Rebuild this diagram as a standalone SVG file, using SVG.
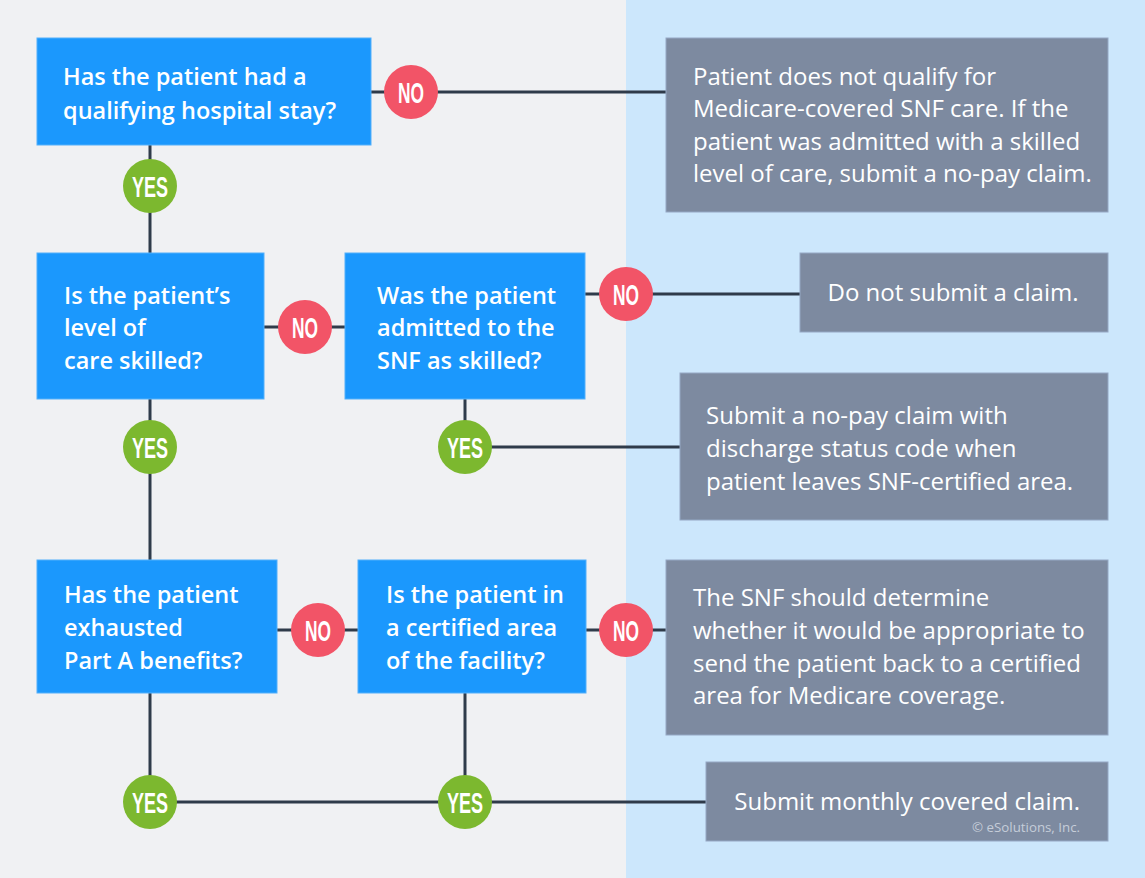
<svg xmlns="http://www.w3.org/2000/svg" width="1145" height="878" viewBox="0 0 1145 878">
<style>
.q{fill:#1b98fd;stroke:#53b0fb;stroke-width:1}
.a{fill:#7d8aa0;stroke:#95a8c4;stroke-width:1}
.qt{font-family:"Open Sans","Liberation Sans",sans-serif;font-weight:600;font-size:23.5px;fill:#ffffff}
.at{font-family:"Open Sans","Liberation Sans",sans-serif;font-weight:400;font-size:24px;fill:#ffffff}
.no{fill:#f25467}
.yes{fill:#7cb82f}
.ct{font-family:"Liberation Sans","DejaVu Sans",sans-serif;font-weight:700;font-size:30px;fill:#ffffff;text-anchor:middle}
.ln{stroke:#2f3b4a;stroke-width:3;fill:none}
.cp{font-family:"Open Sans","Liberation Sans",sans-serif;font-size:13.3px;fill:#c5cdd9;text-anchor:end}
</style>
<rect x="0" y="0" width="626" height="878" fill="#f0f1f3"/>
<rect x="626" y="0" width="519" height="878" fill="#cce7fc"/>
<g id="connectors">
<line class="ln" x1="371" y1="92" x2="666" y2="92"/>
<line class="ln" x1="150" y1="145" x2="150" y2="253"/>
<line class="ln" x1="264" y1="327" x2="345" y2="327"/>
<line class="ln" x1="585" y1="294" x2="800" y2="294"/>
<line class="ln" x1="150" y1="399" x2="150" y2="560"/>
<line class="ln" x1="465" y1="399" x2="465" y2="447"/>
<line class="ln" x1="465" y1="447" x2="680" y2="447"/>
<line class="ln" x1="277" y1="630" x2="358" y2="630"/>
<line class="ln" x1="586" y1="630" x2="666" y2="630"/>
<line class="ln" x1="150" y1="693" x2="150" y2="802"/>
<line class="ln" x1="465" y1="693" x2="465" y2="802"/>
<line class="ln" x1="150" y1="802" x2="706" y2="802"/>
</g>
<g id="q1">
<rect class="q" x="37" y="38" width="334" height="107"/>
<text class="qt" x="63" y="85">Has the patient had a</text>
<text class="qt" x="63" y="119">qualifying hospital stay?</text>
</g>
<g id="no1">
<circle class="no" cx="411" cy="92" r="27"/>
<text class="ct" x="411" y="103" textLength="26" lengthAdjust="spacingAndGlyphs">NO</text>
</g>
<g id="r1">
<rect class="a" x="666" y="38" width="442" height="174"/>
<text class="at" x="693" y="85">Patient does not qualify for</text>
<text class="at" x="693" y="117">Medicare-covered SNF care. If the</text>
<text class="at" x="693" y="149.5">patient was admitted with a skilled</text>
<text class="at" x="693" y="182">level of care, submit a no-pay claim.</text>
</g>
<g id="yes1">
<circle class="yes" cx="150" cy="186" r="27"/>
<text class="ct" x="150" y="197" textLength="36" lengthAdjust="spacingAndGlyphs">YES</text>
</g>
<g id="q2">
<rect class="q" x="37" y="253" width="227" height="146"/>
<text class="qt" x="64" y="303.5">Is the patient’s</text>
<text class="qt" x="64" y="336">level of</text>
<text class="qt" x="64" y="368.5">care skilled?</text>
</g>
<g id="no2">
<circle class="no" cx="305" cy="327" r="27"/>
<text class="ct" x="305" y="338" textLength="26" lengthAdjust="spacingAndGlyphs">NO</text>
</g>
<g id="q3">
<rect class="q" x="345" y="253" width="240" height="146"/>
<text class="qt" x="377" y="303.5">Was the patient</text>
<text class="qt" x="377" y="336">admitted to the</text>
<text class="qt" x="377" y="368.5">SNF as skilled?</text>
</g>
<g id="no3">
<circle class="no" cx="626" cy="294" r="27"/>
<text class="ct" x="626" y="305" textLength="26" lengthAdjust="spacingAndGlyphs">NO</text>
</g>
<g id="r2">
<rect class="a" x="800" y="253" width="308" height="79"/>
<text class="at" x="953" y="301" text-anchor="middle">Do not submit a claim.</text>
</g>
<g id="yes2">
<circle class="yes" cx="150" cy="447" r="27"/>
<text class="ct" x="150" y="458" textLength="36" lengthAdjust="spacingAndGlyphs">YES</text>
</g>
<g id="yes3">
<circle class="yes" cx="465" cy="447" r="27"/>
<text class="ct" x="465" y="458" textLength="36" lengthAdjust="spacingAndGlyphs">YES</text>
</g>
<g id="r3">
<rect class="a" x="680" y="373" width="428" height="147"/>
<text class="at" x="706" y="424">Submit a no-pay claim with</text>
<text class="at" x="706" y="457">discharge status code when</text>
<text class="at" x="706" y="490">patient leaves SNF-certified area.</text>
</g>
<g id="q4">
<rect class="q" x="37" y="560" width="240" height="133"/>
<text class="qt" x="64" y="603">Has the patient</text>
<text class="qt" x="64" y="636">exhausted</text>
<text class="qt" x="64" y="668.5">Part A benefits?</text>
</g>
<g id="no4">
<circle class="no" cx="318" cy="630" r="27"/>
<text class="ct" x="318" y="641" textLength="26" lengthAdjust="spacingAndGlyphs">NO</text>
</g>
<g id="q5">
<rect class="q" x="358" y="560" width="228" height="133"/>
<text class="qt" x="386" y="603">Is the patient in</text>
<text class="qt" x="386" y="636">a certified area</text>
<text class="qt" x="386" y="668.5">of the facility?</text>
</g>
<g id="no5">
<circle class="no" cx="626" cy="630" r="27"/>
<text class="ct" x="626" y="641" textLength="26" lengthAdjust="spacingAndGlyphs">NO</text>
</g>
<g id="r4">
<rect class="a" x="666" y="560" width="442" height="175"/>
<text class="at" x="693" y="606">The SNF should determine</text>
<text class="at" x="693" y="639">whether it would be appropriate to</text>
<text class="at" x="693" y="672">send the patient back to a certified</text>
<text class="at" x="693" y="704">area for Medicare coverage.</text>
</g>
<g id="yes4">
<circle class="yes" cx="150" cy="802" r="27"/>
<text class="ct" x="150" y="813" textLength="36" lengthAdjust="spacingAndGlyphs">YES</text>
</g>
<g id="yes5">
<circle class="yes" cx="465" cy="802" r="27"/>
<text class="ct" x="465" y="813" textLength="36" lengthAdjust="spacingAndGlyphs">YES</text>
</g>
<g id="r5">
<rect class="a" x="706" y="762" width="402" height="79"/>
<text class="at" x="1080" y="810" text-anchor="end">Submit monthly covered claim.</text>
<text class="cp" x="1080" y="832">© eSolutions, Inc.</text>
</g>
</svg>
